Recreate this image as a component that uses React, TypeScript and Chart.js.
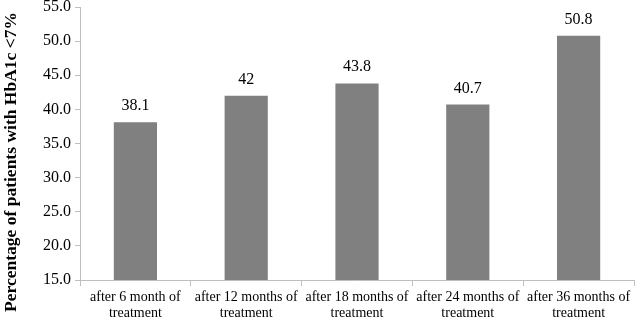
import React, { useEffect, useRef } from "react";
import { Chart, registerables } from "chart.js";

Chart.register(...registerables);

const categories: string[][] = [
  ["after 6 month of", "treatment"],
  ["after 12 months of", "treatment"],
  ["after 18 months of", "treatment"],
  ["after 24 months of", "treatment"],
  ["after 36 months of", "treatment"],
];
const values: number[] = [38.1, 42, 43.8, 40.7, 50.8];
const valueLabels: string[] = ["38.1", "42", "43.8", "40.7", "50.8"];
const yMin = 15;
const yMax = 55;
const yStep = 5;
const yTitle = "Percentage of patients with HbA1c <7%";

const SERIF = "'Liberation Serif', 'Times New Roman', serif";

const dataLabelPlugin = {
  id: "dataLabels",
  afterDatasetsDraw(chart: any) {
    const ctx = chart.ctx;
    const meta = chart.getDatasetMeta(0);
    ctx.save();
    ctx.font = `16px ${SERIF}`;
    ctx.fillStyle = "#000";
    ctx.textAlign = "center";
    ctx.textBaseline = "alphabetic";
    meta.data.forEach((bar: any, i: number) => {
      ctx.fillText(valueLabels[i], bar.x, bar.y - 12);
    });
    ctx.restore();
  },
};

const yTitlePlugin = {
  id: "yTitle",
  afterDraw(chart: any) {
    const ctx = chart.ctx;
    ctx.save();
    ctx.font = `bold 17.5px ${SERIF}`;
    ctx.fillStyle = "#000";
    ctx.textAlign = "center";
    ctx.textBaseline = "middle";
    ctx.translate(11, 162);
    ctx.rotate(-Math.PI / 2);
    ctx.fillText(yTitle, 0, 0);
    ctx.restore();
  },
};

export default function App() {
  const ref = useRef<HTMLCanvasElement | null>(null);
  useEffect(() => {
    if (!ref.current) return;
    const chart = new Chart(ref.current, {
      type: "bar",
      data: {
        labels: categories,
        datasets: [
          {
            data: values,
            backgroundColor: "#808080",
            borderWidth: 0,
            barPercentage: 0.39,
            categoryPercentage: 1,
          },
        ],
      },
      options: {
        animation: false,
        responsive: true,
        maintainAspectRatio: false,
        layout: { padding: { top: 7, right: 4, left: 0, bottom: 0 } },
        plugins: {
          legend: { display: false },
          tooltip: { enabled: false },
        },
        scales: {
          x: {
            grid: {
              offset: true,
              drawOnChartArea: false,
              drawTicks: true,
              tickLength: 6,
              color: "#bfbfbf",
            },
            border: { display: true, color: "#bfbfbf" },
            ticks: {
              color: "#000",
              font: { family: SERIF, size: 14, lineHeight: 1.15 },
              padding: 3,
              maxRotation: 0,
              autoSkip: false,
            },
            afterFit: (scale: any) => {
              scale.height = 38;
              scale.paddingLeft = 0;
              scale.paddingRight = 0;
            },
          },
          y: {
            min: yMin,
            max: yMax,
            grid: {
              drawOnChartArea: false,
              drawTicks: true,
              tickLength: 5,
              color: "#bfbfbf",
            },
            border: { display: true, color: "#bfbfbf" },
            ticks: {
              stepSize: yStep,
              color: "#000",
              font: { family: SERIF, size: 16 },
              padding: 4,
              callback: (v: any) => Number(v).toFixed(1),
            },
            afterFit: (scale: any) => {
              scale.width = 80;
              scale.paddingTop = 0;
              scale.paddingBottom = 0;
            },
          },
        },
      },
      plugins: [dataLabelPlugin, yTitlePlugin],
    });
    return () => chart.destroy();
  }, []);
  return (
    <div style={{ position: "fixed", left: 0, top: 0, width: 638, height: 318 }}>
      <canvas ref={ref} />
    </div>
  );
}
